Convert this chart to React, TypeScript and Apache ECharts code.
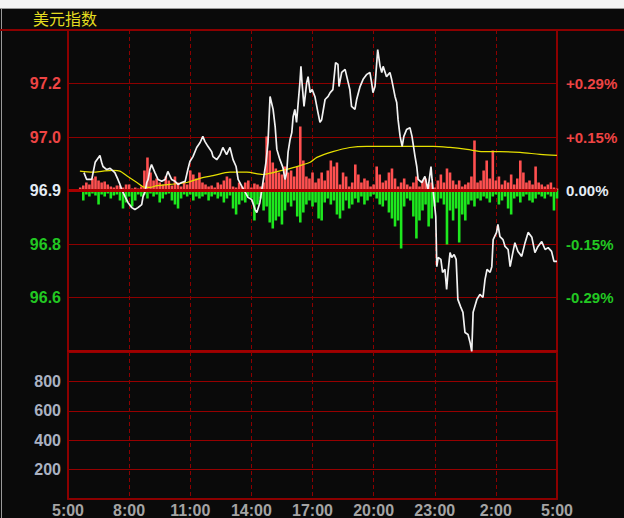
import React, { useEffect, useRef } from "react";
import * as echarts from "echarts";

const TITLE = "美元指数";
const BASE_PRICE = 96.905;
const GRID_STEP = 0.1405;
const LEFT_LABELS = ["", "96.6", "96.8", "96.9", "97.0", "97.2", ""];
const RIGHT_LABELS = ["", "-0.29%", "-0.15%", "0.00%", "+0.15%", "+0.29%", ""];
const X_LABELS = ["5:00", "8:00", "11:00", "14:00", "17:00", "20:00", "23:00", "2:00", "5:00"];
const VOL_LABELS = ["", "200", "400", "600", "800", ""];

// [minute since 5:00, price]
const PRICE_SERIES = [
  [47, 96.952], [55, 96.934], [70, 96.934], [80, 96.979], [94, 96.997], [99, 96.979], [103, 96.968], [114, 96.96],
  [124, 96.963], [138, 96.952], [147, 96.934], [153, 96.921], [158, 96.908], [168, 96.889], [177, 96.873], [188, 96.86],
  [197, 96.855], [206, 96.86], [217, 96.868], [221, 96.889], [227, 96.902], [232, 96.926], [236, 96.934], [241, 96.96],
  [246, 96.973], [256, 96.952], [265, 96.934], [276, 96.929], [286, 96.934], [294, 96.955], [305, 96.934], [315, 96.929],
  [324, 96.921], [335, 96.926], [345, 96.929], [353, 96.96], [359, 96.981], [368, 96.994], [379, 97.018], [389, 97.031],
  [397, 97.047], [403, 97.034], [412, 97.021], [423, 97.007], [427, 96.994], [438, 96.986], [448, 96.999], [456, 97.018],
  [467, 96.999], [477, 97.018], [486, 96.986], [495, 96.968], [501, 96.934], [512, 96.916], [521, 96.902], [530, 96.887],
  [541, 96.881], [551, 96.855], [556, 96.847], [565, 96.873], [574, 96.926], [583, 96.979], [589, 97.031], [595, 97.152],
  [604, 97.118], [610, 97.073], [615, 97.013], [624, 96.986], [633, 96.965], [639, 96.934], [644, 96.952], [648, 97.005],
  [654, 97.039], [659, 97.057], [663, 97.099], [668, 97.118], [673, 97.084], [677, 97.126], [683, 97.189], [686, 97.231],
  [689, 97.189], [695, 97.126], [703, 97.189], [707, 97.204], [713, 97.162], [719, 97.17], [727, 97.152], [736, 97.11],
  [742, 97.084], [747, 97.091], [757, 97.144], [766, 97.152], [772, 97.162], [780, 97.17], [788, 97.241], [795, 97.236],
  [798, 97.178], [806, 97.215], [816, 97.223], [821, 97.204], [830, 97.17], [835, 97.126], [845, 97.118], [850, 97.144],
  [860, 97.178], [869, 97.197], [880, 97.21], [889, 97.215], [894, 97.189], [898, 97.162], [904, 97.178], [912, 97.275],
  [919, 97.231], [924, 97.215], [928, 97.231], [938, 97.204], [948, 97.215], [953, 97.197], [963, 97.152], [968, 97.136],
  [972, 97.091], [978, 97.047], [984, 97.021], [989, 97.047], [997, 97.065], [1007, 97.07], [1013, 97.047], [1022, 96.994],
  [1027, 96.968], [1031, 96.934], [1042, 96.926], [1051, 96.942], [1060, 96.908], [1069, 96.968], [1072, 96.934], [1078, 96.881],
  [1083, 96.837], [1086, 96.705], [1090, 96.729], [1098, 96.724], [1103, 96.69], [1110, 96.698], [1115, 96.645], [1119, 96.69],
  [1125, 96.742], [1130, 96.729], [1137, 96.737], [1143, 96.724], [1146, 96.663], [1148, 96.619], [1156, 96.6], [1163, 96.585],
  [1169, 96.532], [1178, 96.527], [1184, 96.506], [1189, 96.482], [1193, 96.585], [1204, 96.619], [1213, 96.632], [1222, 96.624],
  [1228, 96.671], [1234, 96.698], [1243, 96.69], [1248, 96.705], [1252, 96.776], [1262, 96.795], [1266, 96.816], [1272, 96.784],
  [1281, 96.776], [1287, 96.758], [1296, 96.75], [1302, 96.705], [1310, 96.742], [1316, 96.768], [1325, 96.745], [1336, 96.732],
  [1346, 96.768], [1355, 96.795], [1366, 96.782], [1375, 96.742], [1384, 96.758], [1395, 96.771], [1405, 96.75], [1414, 96.755],
  [1424, 96.745], [1431, 96.719], [1440, 96.719],
];

const AVG_SERIES = [
  [35, 96.956], [74, 96.953], [103, 96.956], [133, 96.958], [153, 96.956], [174, 96.943], [203, 96.926], [227, 96.913],
  [241, 96.913], [262, 96.918], [300, 96.921], [350, 96.926], [389, 96.937], [427, 96.944], [477, 96.953], [527, 96.953],
  [574, 96.947], [604, 96.952], [663, 96.965], [713, 96.979], [733, 96.992], [780, 97.007], [830, 97.018], [880, 97.021],
  [978, 97.021], [1075, 97.021], [1125, 97.018], [1175, 97.013], [1222, 97.007], [1272, 97.007], [1331, 97.005], [1390, 97.0],
  [1440, 96.997],
];

const BAR_START_MIN = 36;
const BAR_STEP_MIN = 9;
const BUY_BARS = [
  3, 5, 8, 6, 12, 14, 10, 8, 9, 6,
  4, 3, 5, 5, 3, 6, 6, 2, 3, 2,
  4, 20, 33, 18, 10, 12, 8, 6, 14, 10,
  5, 14, 8, 4, 8, 6, 20, 16, 12, 18,
  8, 6, 4, 5, 3, 8, 6, 10, 14, 12,
  4, 3, 8, 4, 8, 10, 3, 7, 6, 4,
  8, 54, 40, 28, 22, 18, 16, 24, 18, 20,
  14, 24, 64, 30, 14, 12, 18, 8, 12, 18,
  10, 20, 30, 24, 28, 6, 18, 14, 4, 8,
  26, 16, 8, 12, 10, 4, 6, 24, 16, 8,
  10, 18, 22, 12, 4, 8, 12, 6, 4, 8,
  14, 4, 10, 12, 6, 8, 3, 10, 16, 8,
  22, 18, 10, 6, 10, 4, 6, 8, 14, 50,
  8, 10, 20, 30, 12, 40, 10, 14, 6, 10,
  8, 16, 6, 12, 30, 18, 8, 10, 6, 24,
  8, 6, 4, 6, 8, 3, 2,
];
const SELL_BARS = [
  0, 10, 4, 6, 3, 5, 14, 4, 6, 3,
  8, 5, 4, 10, 18, 12, 6, 16, 10, 4,
  6, 4, 8, 3, 6, 4, 12, 8, 4, 3,
  10, 14, 18, 8, 4, 6, 4, 10, 6, 8,
  6, 4, 10, 6, 4, 8, 6, 12, 8, 5,
  18, 24, 14, 10, 12, 6, 8, 30, 14, 8,
  20, 16, 32, 38, 30, 26, 34, 20, 12, 16,
  10, 26, 32, 22, 14, 10, 16, 12, 28, 30,
  12, 8, 14, 10, 24, 28, 20, 10, 18, 14,
  8, 12, 6, 14, 10, 6, 4, 8, 14, 16,
  10, 22, 28, 36, 30, 58, 16, 8, 10, 26,
  48, 30, 20, 14, 36, 28, 16, 12, 8, 14,
  54, 20, 30, 18, 52, 24, 30, 14, 10, 16,
  8, 10, 6, 8, 12, 6, 4, 14, 10, 6,
  18, 24, 8, 6, 12, 6, 4, 10, 12, 8,
  4, 6, 8, 4, 6, 20, 8,
];
const BAR_RANGE = 160.5;

const GRID_RED = "#8c0000";
const LABEL_RED = "#ee4444";
const LABEL_GREEN = "#22c822";
const LABEL_WHITE = "#e4ecf4";
const FONT = "'Liberation Sans', Arial, sans-serif";

export default function App() {
  const ref = useRef<HTMLDivElement>(null);

  useEffect(() => {
    document.body.style.margin = "0";
    const chart = echarts.init(ref.current!, null, { renderer: "svg" });
    const toUnits = (p: number) => (p - BASE_PRICE) / GRID_STEP;
    const labelColor = (v: any) => {
      const n = Number(v);
      return n > 0 ? LABEL_RED : n < 0 ? LABEL_GREEN : LABEL_WHITE;
    };
    const dashed = { show: true, lineStyle: { color: GRID_RED, width: 1, type: [4, 3] as any } };
    const option: any = {
      animation: false,
      backgroundColor: "#0a0a0a",
      title: {
        text: TITLE,
        left: 33,
        top: 10,
        padding: 0,
        textStyle: { color: "#e4dc20", fontSize: 16, fontWeight: "normal", fontFamily: "'Noto Sans CJK SC', sans-serif" },
      },
      graphic: [
        { type: "rect", shape: { x: 0, y: 0, width: 624, height: 8 }, style: { fill: "#f4f4f4" }, silent: true },
        { type: "line", shape: { x1: 0, y1: 8.5, x2: 624, y2: 8.5 }, style: { stroke: "#9a9a9a", lineWidth: 1 }, silent: true },
        { type: "line", shape: { x1: 1.5, y1: 8, x2: 1.5, y2: 518 }, style: { stroke: "#9a9a9a", lineWidth: 1 }, silent: true },
        { type: "line", shape: { x1: 0, y1: 30, x2: 624, y2: 30 }, style: { stroke: GRID_RED, lineWidth: 2 }, silent: true },
      ],
      grid: [
        { left: 68, top: 30, width: 489, height: 321 },
        { left: 68, top: 352, width: 489, height: 150 },
      ],
      xAxis: [
        {
          type: "value", gridIndex: 0, min: 0, max: 1440, interval: 180,
          axisLabel: { show: false }, axisTick: { show: false },
          axisLine: { show: true, onZero: false, lineStyle: { color: "#a00000", width: 2 } },
          splitLine: dashed,
        },
        {
          type: "value", gridIndex: 1, min: 0, max: 1440, interval: 180,
          axisTick: { show: false },
          axisLine: { show: true, onZero: false, lineStyle: { color: GRID_RED, width: 2 } },
          splitLine: dashed,
          axisLabel: {
            margin: 3, color: "#a4a4a4", fontSize: 16, fontWeight: "bold", fontFamily: FONT,
            formatter: (v: number) => X_LABELS[Math.round(v / 180)] ?? "",
          },
        },
      ],
      yAxis: [
        {
          type: "value", gridIndex: 0, min: -3, max: 3, interval: 1, position: "left",
          axisTick: { show: false },
          axisLine: { show: true, onZero: false, lineStyle: { color: GRID_RED, width: 2 } },
          splitLine: { show: true, lineStyle: { color: GRID_RED, width: 1 } },
          axisLabel: {
            margin: 7, fontSize: 16, fontWeight: "bold", fontFamily: FONT,
            color: labelColor,
            formatter: (v: number) => LEFT_LABELS[Math.round(v) + 3] ?? "",
          },
        },
        {
          type: "value", gridIndex: 0, min: -3, max: 3, interval: 1, position: "right",
          axisTick: { show: false },
          axisLine: { show: true, onZero: false, lineStyle: { color: GRID_RED, width: 2 } },
          splitLine: { show: false },
          axisLabel: {
            margin: 9, fontSize: 15, fontWeight: "bold", fontFamily: FONT,
            color: labelColor,
            formatter: (v: number) => RIGHT_LABELS[Math.round(v) + 3] ?? "",
          },
        },
        {
          type: "value", gridIndex: 0, min: -BAR_RANGE, max: BAR_RANGE, show: false,
          splitLine: { show: false },
        },
        {
          type: "value", gridIndex: 1, min: 0, max: 1000, interval: 200, position: "left",
          axisTick: { show: false },
          axisLine: { show: true, onZero: false, lineStyle: { color: GRID_RED, width: 2 } },
          splitLine: { show: true, lineStyle: { color: "#960000", width: 1 } },
          axisLabel: {
            margin: 7, fontSize: 16, fontWeight: "bold", fontFamily: FONT, color: "#aab2c2",
            formatter: (v: number) => VOL_LABELS[Math.round(v / 200)] ?? "",
          },
        },
        {
          type: "value", gridIndex: 1, min: 0, max: 1000, interval: 200, position: "right",
          axisTick: { show: false }, axisLabel: { show: false },
          axisLine: { show: true, onZero: false, lineStyle: { color: GRID_RED, width: 2 } },
          splitLine: { show: false },
        },
      ],
      series: [
        {
          type: "bar", xAxisIndex: 0, yAxisIndex: 2, barWidth: 2.6, barGap: "-100%", z: 2,
          itemStyle: { color: "#ff5050" },
          data: BUY_BARS.map((v, i) => [BAR_START_MIN + i * BAR_STEP_MIN, v]),
          markLine: {
            silent: true, symbol: ["none", "none"], label: { show: false },
            lineStyle: { color: "#a80000", width: 3, type: "solid" },
            data: [{ yAxis: 0 }],
          },
        },
        {
          type: "bar", xAxisIndex: 0, yAxisIndex: 2, barWidth: 2.6, barGap: "-100%", z: 2,
          itemStyle: { color: "#1ee81e" },
          data: SELL_BARS.map((v, i) => [BAR_START_MIN + i * BAR_STEP_MIN, -v]),
        },
        {
          type: "line", xAxisIndex: 0, yAxisIndex: 0, symbol: "none", smooth: 0.3, z: 3,
          lineStyle: { color: "#e6e000", width: 1.2 },
          data: AVG_SERIES.map(([m, p]) => [m, toUnits(p)]),
        },
        {
          type: "line", xAxisIndex: 0, yAxisIndex: 0, symbol: "none", z: 4,
          lineStyle: { color: "#f2f2f2", width: 1.7 },
          data: PRICE_SERIES.map(([m, p]) => [m, toUnits(p)]),
        },
      ],
    };
    chart.setOption(option);
    return () => chart.dispose();
  }, []);

  return <div ref={ref} style={{ width: 624, height: 518 }} />;
}
